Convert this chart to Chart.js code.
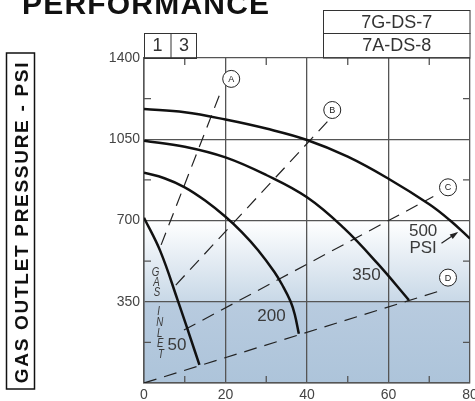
<!DOCTYPE html>
<html>
<head>
<meta charset="utf-8">
<script src="https://cdn.jsdelivr.net/npm/chart.js@4.4.0/dist/chart.umd.min.js"></script>
<style>
  html, body { margin: 0; padding: 0; background: #fff; }
  #wrap { width: 475px; height: 401px; position: relative; }
</style>
</head>
<body>
<div id="wrap"><canvas id="chart"></canvas></div>
<script>
// axis ticks
const xTicks = [0, 20, 40, 60, 80];
const yTicks = [0, 350, 700, 1050, 1400];
const xMinor = [10, 30, 50, 70];
const yMinor = [175, 525, 875, 1225];

// inlet pressure curves (gas flow x, outlet psi y)
const curve500X = [0, 10, 20, 30, 40, 50, 60, 70, 75, 80];
const curve500Y = [1180, 1166, 1135, 1096, 1047, 975, 880, 770, 702, 622];
const curve350X = [0, 10, 20, 30, 40, 49, 57.3, 65];
const curve350Y = [1044, 1018, 972, 896, 800, 668, 515, 357];
const curve200X = [0, 5, 10, 15, 20, 24, 28, 32, 34, 36, 37, 38];
const curve200Y = [906, 882, 843, 786, 716, 650, 572, 478, 420, 350, 295, 212];
const curve50X = [0, 4, 8.3, 11, 13.6];
const curve50Y = [712, 568, 355, 215, 78];

// dashed model lines A-D
const dashNames = ["A", "B", "C", "D"];
const dashStartX = [4.2, 7.8, 9.8, 0];
const dashStartY = [595, 422, 228, 0];
const dashEndX = [19, 45, 71, 73.6];
const dashEndY = [1262, 1126, 803, 402];
const circleX = [21.4, 46.2, 74.6, 74.6];
const circleY = [1310, 1176, 843, 454];

// curve labels
const labelText = ["500", "PSI", "350", "200", "50"];
const labelX = [68.5, 68.5, 54.6, 31.3, 8.1];
const labelY = [652, 580, 465, 286, 162];
const inletLetters = ["G", "A", "S", "I", "N", "L", "E", "T"];
const inletX = [2.8, 3.05, 3.2, 3.6, 3.85, 3.85, 4.0, 4.15];
const inletY = [479, 436, 393, 307, 260, 214, 171, 125];

function pts(xs, ys) {
  return xs.map((v, i) => ({ x: v, y: ys[i] }));
}

const curveStyle = {
  borderColor: "#111",
  borderWidth: 2.5,
  pointRadius: 0,
  showLine: true,
  tension: 0.4,
  fill: false,
};

const datasets = [
  { ...curveStyle, data: pts(curve500X, curve500Y) },
  { ...curveStyle, data: pts(curve350X, curve350Y) },
  { ...curveStyle, data: pts(curve200X, curve200Y) },
  { ...curveStyle, data: pts(curve50X, curve50Y) },
];
dashNames.forEach((n, i) => {
  datasets.push({
    data: [
      { x: dashStartX[i], y: dashStartY[i] },
      { x: dashEndX[i], y: dashEndY[i] },
    ],
    borderColor: "#222",
    borderWidth: 1.2,
    borderDash: [13, 8],
    pointRadius: 0,
    showLine: true,
    tension: 0,
    fill: false,
  });
});

const FONT = "'Liberation Sans', Arial, sans-serif";

const background = {
  id: "background",
  beforeDraw(chart) {
    const { ctx, chartArea: a, scales } = chart;
    const y0 = scales.y.getPixelForValue(0);
    const y350 = scales.y.getPixelForValue(350);
    const y700 = scales.y.getPixelForValue(700);
    ctx.save();
    let g = ctx.createLinearGradient(0, y0, 0, y350);
    g.addColorStop(0, "#adc4da");
    g.addColorStop(1, "#b8cbdf");
    ctx.fillStyle = g;
    ctx.fillRect(a.left, y350, a.right - a.left, y0 - y350);
    g = ctx.createLinearGradient(0, y350, 0, y700);
    g.addColorStop(0, "#c8d8e7");
    g.addColorStop(1, "#ffffff");
    ctx.fillStyle = g;
    ctx.fillRect(a.left, y700, a.right - a.left, y350 - y700);
    ctx.restore();
  },
};

const annotations = {
  id: "annotations",
  afterDraw(chart) {
    const { ctx, chartArea: a, scales } = chart;
    const px = (v) => scales.x.getPixelForValue(v);
    const py = (v) => scales.y.getPixelForValue(v);
    ctx.save();

    // minor ticks, inside the frame
    ctx.strokeStyle = "#555";
    ctx.lineWidth = 1.3;
    ctx.beginPath();
    xMinor.forEach((v) => {
      ctx.moveTo(px(v), a.bottom);
      ctx.lineTo(px(v), a.bottom - 7);
      ctx.moveTo(px(v), a.top);
      ctx.lineTo(px(v), a.top + 7);
    });
    yMinor.forEach((v) => {
      ctx.moveTo(a.left, py(v));
      ctx.lineTo(a.left + 7, py(v));
      ctx.moveTo(a.right, py(v));
      ctx.lineTo(a.right - 7, py(v));
    });
    ctx.stroke();

    // circled letters
    ctx.lineWidth = 1;
    ctx.strokeStyle = "#222";
    ctx.font = "9px " + FONT;
    ctx.textAlign = "center";
    ctx.textBaseline = "middle";
    dashNames.forEach((n, i) => {
      const cx = px(circleX[i]);
      const cy = py(circleY[i]);
      ctx.fillStyle = "#fff";
      ctx.beginPath();
      ctx.arc(cx, cy, 8.5, 0, Math.PI * 2);
      ctx.fill();
      ctx.stroke();
      ctx.fillStyle = "#222";
      ctx.fillText(n, cx, cy + 0.5);
    });

    // curve labels
    ctx.fillStyle = "#3a3a3a";
    ctx.font = "17px " + FONT;
    labelText.forEach((t, i) => {
      ctx.fillText(t, px(labelX[i]), py(labelY[i]));
    });

    // GAS INLET letters, narrow italic
    ctx.font = "italic 13.5px " + FONT;
    inletLetters.forEach((t, i) => {
      ctx.save();
      ctx.translate(px(inletX[i]), py(inletY[i]));
      ctx.scale(0.72, 1);
      ctx.fillText(t, 0, 0);
      ctx.restore();
    });

    // arrow to the 500 curve
    const ax0 = px(73), ay0 = py(602), ax1 = px(76.7), ay1 = py(646);
    ctx.strokeStyle = "#222";
    ctx.lineWidth = 1.2;
    ctx.beginPath();
    ctx.moveTo(ax0, ay0);
    ctx.lineTo(ax1, ay1);
    ctx.stroke();
    const ang = Math.atan2(ay1 - ay0, ax1 - ax0);
    ctx.fillStyle = "#222";
    ctx.beginPath();
    ctx.moveTo(ax1 + 2 * Math.cos(ang), ay1 + 2 * Math.sin(ang));
    ctx.lineTo(ax1 - 7 * Math.cos(ang - 0.4), ay1 - 7 * Math.sin(ang - 0.4));
    ctx.lineTo(ax1 - 7 * Math.cos(ang + 0.4), ay1 - 7 * Math.sin(ang + 0.4));
    ctx.closePath();
    ctx.fill();

    // model boxes above the plot
    ctx.strokeStyle = "#333";
    ctx.lineWidth = 1;
    const bTop = a.top - 25;
    ctx.strokeRect(a.left + 0.5, bTop + 0.5, 52, 25);
    ctx.beginPath();
    ctx.moveTo(a.left + 27, bTop);
    ctx.lineTo(a.left + 27, a.top);
    ctx.stroke();
    ctx.strokeRect(323.5, 10.5, a.right - 323.5, 23);
    ctx.strokeRect(323.5, 33.5, a.right - 323.5, a.top - 33.5);
    ctx.fillStyle = "#333";
    ctx.font = "18px " + FONT;
    ctx.fillText("1", a.left + 13.5, bTop + 13);
    ctx.fillText("3", a.left + 40, bTop + 13);
    ctx.fillText("7G-DS-7", (323.5 + a.right) / 2, 23);
    ctx.fillText("7A-DS-8", (323.5 + a.right) / 2, 46);

    // title
    ctx.fillStyle = "#111";
    ctx.textAlign = "left";
    ctx.textBaseline = "alphabetic";
    ctx.font = "bold 30px " + FONT;
    ctx.letterSpacing = "1.2px";
    ctx.fillText("PERFORMANCE", 22, 13.5);

    // y axis title in a box
    ctx.strokeStyle = "#111";
    ctx.lineWidth = 1.5;
    ctx.strokeRect(6.5, 53, 28, 336);
    ctx.translate(21.5, 222);
    ctx.rotate(-Math.PI / 2);
    ctx.textAlign = "center";
    ctx.textBaseline = "middle";
    ctx.font = "bold 19px " + FONT;
    ctx.letterSpacing = "1.7px";
    ctx.fillText("GAS OUTLET PRESSURE - PSI", 0, 1);
    ctx.restore();
  },
};

new Chart(document.getElementById("chart"), {
  type: "scatter",
  data: { datasets },
  options: {
    responsive: true,
    maintainAspectRatio: false,
    animation: false,
    layout: { padding: { top: 58, right: 5, left: 0, bottom: 0 } },
    plugins: { legend: { display: false }, tooltip: { enabled: false } },
    scales: {
      x: {
        type: "linear",
        min: 0,
        max: 80,
        afterBuildTicks: (s) => { s.ticks = xTicks.map((v) => ({ value: v })); },
        afterFit: (s) => { s.height = 18; s.paddingLeft = 0; s.paddingRight = 0; },
        grid: { color: "#555", lineWidth: 1.3, drawTicks: false },
        border: { color: "#555", width: 1.5 },
        ticks: {
          padding: 4,
          color: "#444",
          font: { family: FONT, size: 14 },
          callback: (v) => String(v),
        },
      },
      y: {
        type: "linear",
        min: 0,
        max: 1400,
        afterBuildTicks: (s) => { s.ticks = yTicks.map((v) => ({ value: v })); },
        afterFit: (s) => { s.width = 144; s.paddingTop = 0; s.paddingBottom = 0; },
        grid: { color: "#555", lineWidth: 1.3, drawTicks: false },
        border: { color: "#555", width: 1.5 },
        ticks: {
          padding: 4,
          color: "#444",
          font: { family: FONT, size: 14 },
          callback: (v) => (v === 0 ? "" : String(v)),
        },
      },
    },
  },
  plugins: [background, annotations],
});
</script>
</body>
</html>
